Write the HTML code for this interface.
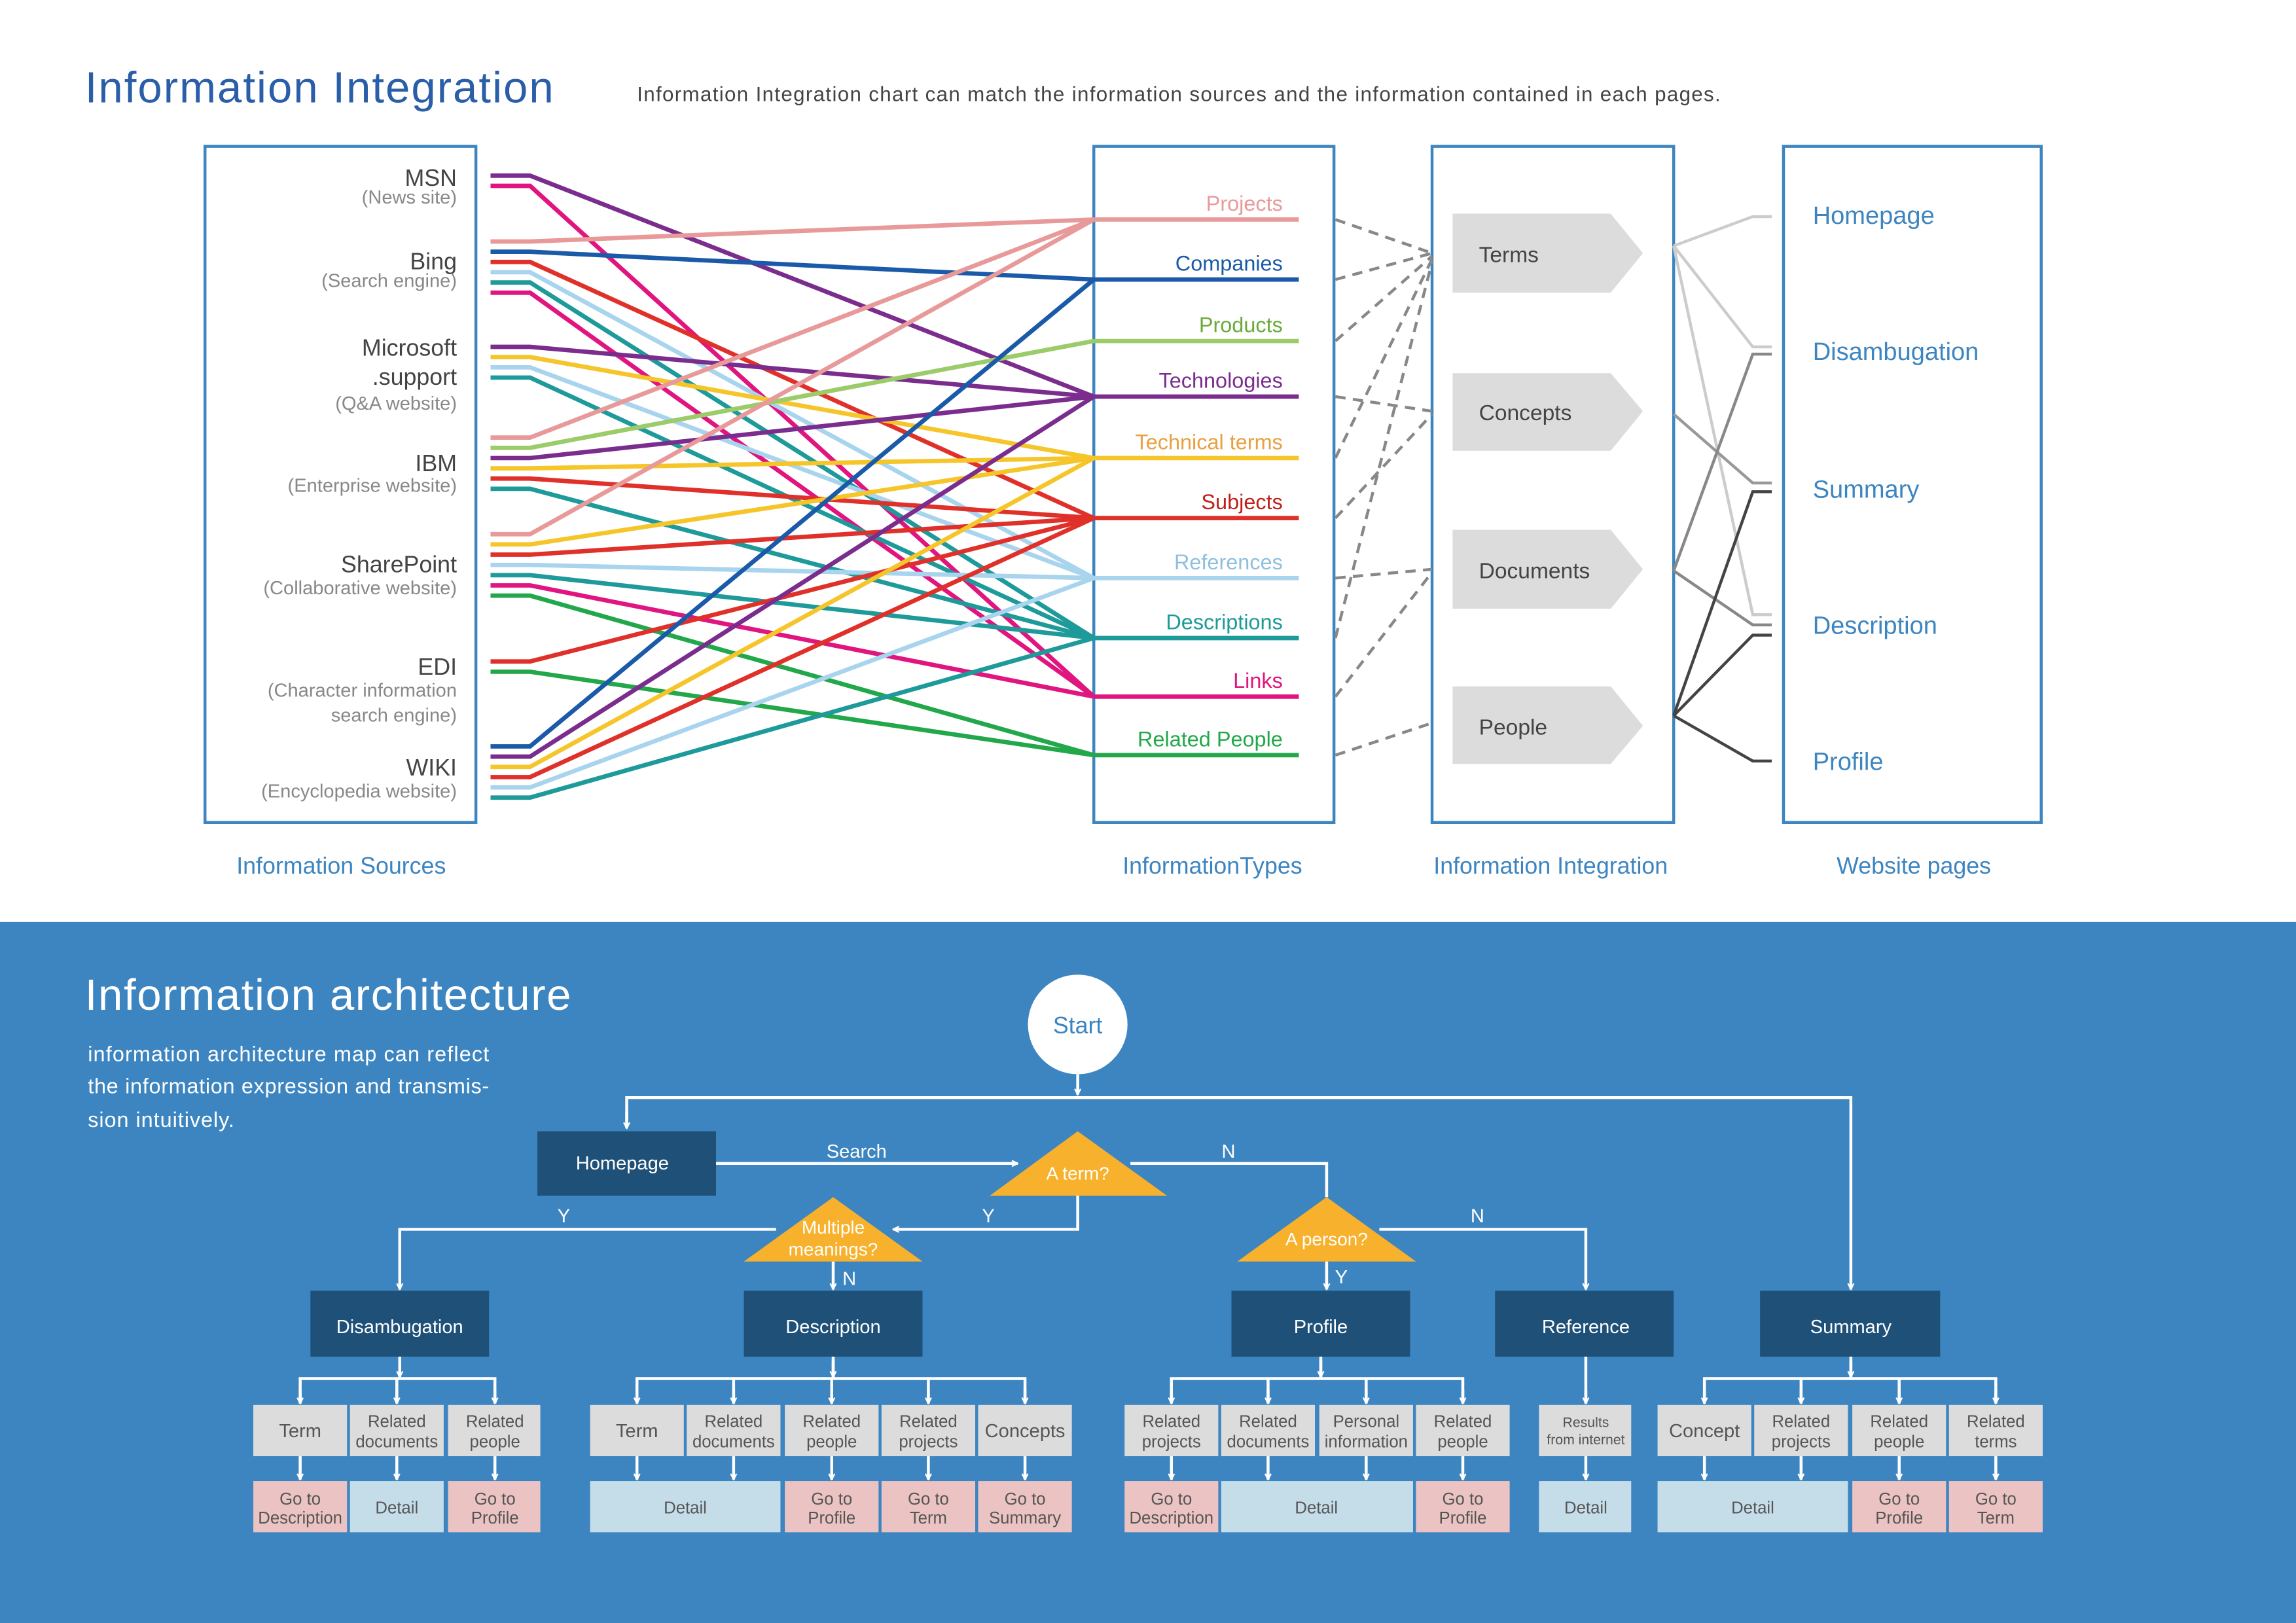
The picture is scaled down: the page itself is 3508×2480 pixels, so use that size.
<!DOCTYPE html>
<html><head><meta charset="utf-8"><style>
html,body{margin:0;padding:0;background:#fff}
svg{display:block}
text{font-family:"Liberation Sans",sans-serif}
</style></head><body>
<svg width="3508" height="2480" viewBox="0 0 1568 1109" preserveAspectRatio="none" xmlns="http://www.w3.org/2000/svg">
<defs>
<marker id="ar" viewBox="0 0 10 10" refX="9" refY="5" markerWidth="5" markerHeight="5" orient="auto" markerUnits="userSpaceOnUse">
<path d="M1,1 L9,5 L1,9" fill="none" stroke="#fff" stroke-width="2"/>
</marker>
</defs>
<rect width="1568" height="1109" fill="#fff"/>
<text x="58" y="70" font-size="30" fill="#2a5ea8" textLength="320" lengthAdjust="spacing">Information Integration</text>
<text x="435" y="69" font-size="14" fill="#444" textLength="740" lengthAdjust="spacing">Information Integration chart can match the information sources and the information contained in each pages.</text>

<g fill="none" stroke="#3d85c0" stroke-width="2">
<rect x="140" y="100" width="185" height="462"/>
<rect x="747" y="100" width="164" height="462"/>
<rect x="978" y="100" width="165" height="462"/>
<rect x="1218" y="100" width="176" height="462"/>
</g>

<g font-size="16" fill="#444" text-anchor="end">
<text x="312" y="127">MSN</text><text x="312" y="139" font-size="13" fill="#888">(News site)</text>
<text x="312" y="184">Bing</text><text x="312" y="196" font-size="13" fill="#888">(Search engine)</text>
<text x="312" y="243">Microsoft</text><text x="312" y="263">.support</text><text x="312" y="280" font-size="13" fill="#888">(Q&amp;A website)</text>
<text x="312" y="322">IBM</text><text x="312" y="336" font-size="13" fill="#888">(Enterprise website)</text>
<text x="312" y="391">SharePoint</text><text x="312" y="406" font-size="13" fill="#888">(Collaborative website)</text>
<text x="312" y="461">EDI</text><text x="312" y="476" font-size="13" fill="#888">(Character information</text><text x="312" y="493" font-size="13" fill="#888">search engine)</text>
<text x="312" y="530">WIKI</text><text x="312" y="545" font-size="13" fill="#888">(Encyclopedia website)</text>
</g>

<g fill="none" stroke-width="3">
<path d="M335,120H362L747,271" stroke="#7b2d8e"/>
<path d="M335,127H362L747,476" stroke="#e0157f"/>
<path d="M335,165H362L747,150" stroke="#e89a9a"/>
<path d="M335,172H362L747,191" stroke="#1a5aa8"/>
<path d="M335,179H362L747,354" stroke="#e0302a"/>
<path d="M335,186H362L747,395" stroke="#a8d4ee"/>
<path d="M335,193H362L747,436" stroke="#1e9a9a"/>
<path d="M335,200H362L747,476" stroke="#e0157f"/>
<path d="M335,237H362L747,271" stroke="#7b2d8e"/>
<path d="M335,244H362L747,313" stroke="#f5c52a"/>
<path d="M335,251H362L747,395" stroke="#a8d4ee"/>
<path d="M335,258H362L747,436" stroke="#1e9a9a"/>
<path d="M335,299H362L747,150" stroke="#e89a9a"/>
<path d="M335,306H362L747,233" stroke="#9ccc6a"/>
<path d="M335,313H362L747,271" stroke="#7b2d8e"/>
<path d="M335,320H362L747,313" stroke="#f5c52a"/>
<path d="M335,327H362L747,354" stroke="#e0302a"/>
<path d="M335,334H362L747,436" stroke="#1e9a9a"/>
<path d="M335,365H362L747,150" stroke="#e89a9a"/>
<path d="M335,372H362L747,313" stroke="#f5c52a"/>
<path d="M335,379H362L747,354" stroke="#e0302a"/>
<path d="M335,386H362L747,395" stroke="#a8d4ee"/>
<path d="M335,393H362L747,436" stroke="#1e9a9a"/>
<path d="M335,400H362L747,476" stroke="#e0157f"/>
<path d="M335,407H362L747,516" stroke="#22a84a"/>
<path d="M335,452H362L747,354" stroke="#e0302a"/>
<path d="M335,459H362L747,516" stroke="#22a84a"/>
<path d="M335,510H362L747,191" stroke="#1a5aa8"/>
<path d="M335,517H362L747,271" stroke="#7b2d8e"/>
<path d="M335,524H362L747,313" stroke="#f5c52a"/>
<path d="M335,531H362L747,354" stroke="#e0302a"/>
<path d="M335,538H362L747,395" stroke="#a8d4ee"/>
<path d="M335,545H362L747,436" stroke="#1e9a9a"/>
<path d="M747,150H887" stroke="#e89a9a"/>
<path d="M747,191H887" stroke="#1a5aa8"/>
<path d="M747,233H887" stroke="#9ccc6a"/>
<path d="M747,271H887" stroke="#7b2d8e"/>
<path d="M747,313H887" stroke="#f5c52a"/>
<path d="M747,354H887" stroke="#e0302a"/>
<path d="M747,395H887" stroke="#a8d4ee"/>
<path d="M747,436H887" stroke="#1e9a9a"/>
<path d="M747,476H887" stroke="#e0157f"/>
<path d="M747,516H887" stroke="#22a84a"/>
</g>
<g font-size="14.5" text-anchor="end">
<text x="876" y="144" fill="#e89a9a">Projects</text>
<text x="876" y="185" fill="#1a5aa8">Companies</text>
<text x="876" y="227" fill="#6aaa3a">Products</text>
<text x="876" y="265" fill="#7b2d8e">Technologies</text>
<text x="876" y="307" fill="#e8a040">Technical terms</text>
<text x="876" y="348" fill="#c0201a">Subjects</text>
<text x="876" y="389" fill="#8fbfdf">References</text>
<text x="876" y="430" fill="#1e9a9a">Descriptions</text>
<text x="876" y="470" fill="#e0157f">Links</text>
<text x="876" y="510" fill="#22a84a">Related People</text>
</g>

<g fill="none" stroke="#888" stroke-width="2" stroke-dasharray="7,5">
<path d="M912,150L978,173"/>
<path d="M912,191L978,173"/>
<path d="M912,233L978,175"/>
<path d="M912,271L978,281"/>
<path d="M912,313L978,177"/>
<path d="M912,354L978,283"/>
<path d="M912,395L978,389"/>
<path d="M912,436L978,179"/>
<path d="M912,476L978,391"/>
<path d="M912,516L978,494"/>
</g>

<g fill="#dcdcdc">
<polygon points="992,146 1100,146 1122,173 1100,200 992,200"/>
<polygon points="992,255 1100,255 1122,281 1100,308 992,308"/>
<polygon points="992,362 1100,362 1122,389 1100,416 992,416"/>
<polygon points="992,469 1100,469 1122,496 1100,522 992,522"/>
</g>
<g font-size="15" fill="#444">
<text x="1010" y="179">Terms</text>
<text x="1010" y="287">Concepts</text>
<text x="1010" y="395">Documents</text>
<text x="1010" y="502">People</text>
</g>

<g fill="none" stroke-width="2">
<path d="M1143,168L1197,148H1210" stroke="#ccc"/>
<path d="M1143,168L1197,237H1210" stroke="#ccc"/>
<path d="M1143,168L1197,420H1210" stroke="#ccc"/>
<path d="M1143,283L1197,330H1210" stroke="#999"/>
<path d="M1143,390L1197,242H1210" stroke="#888"/>
<path d="M1143,390L1197,427H1210" stroke="#888"/>
<path d="M1143,489L1197,336H1210" stroke="#444"/>
<path d="M1143,489L1197,434H1210" stroke="#444"/>
<path d="M1143,489L1197,520H1210" stroke="#444"/>
</g>
<g font-size="17" fill="#3d85c0">
<text x="1238" y="153">Homepage</text>
<text x="1238" y="246">Disambugation</text>
<text x="1238" y="340">Summary</text>
<text x="1238" y="433">Description</text>
<text x="1238" y="526">Profile</text>
</g>
<g font-size="16" fill="#3d85c0" text-anchor="middle">
<text x="233" y="597">Information Sources</text>
<text x="828" y="597">InformationTypes</text>
<text x="1059" y="597">Information Integration</text>
<text x="1307" y="597">Website pages</text>
</g>

<rect x="0" y="630" width="1568" height="479" fill="#3d85c0"/>
<text x="58" y="690" font-size="30" fill="#fff" textLength="332" lengthAdjust="spacing">Information architecture</text>
<g font-size="14.5" fill="#fff">
<text x="60" y="725" textLength="274" lengthAdjust="spacing">information architecture map can reflect</text>
<text x="60" y="747" textLength="274" lengthAdjust="spacing">the information expression and transmis-</text>
<text x="60" y="770" textLength="100" lengthAdjust="spacing">sion intuitively.</text>
</g>
<circle cx="736" cy="700" r="34" fill="#fff"/>
<text x="736" y="706" font-size="16" fill="#3d85c0" text-anchor="middle">Start</text>

<g fill="none" stroke="#fff" stroke-width="2">
<path d="M736,734V748" marker-end="url(#ar)"/>
<path d="M428,770V750H1264V881" marker-end="url(#ar)"/>
<path d="M489,795H695" marker-end="url(#ar)"/>
<path d="M772,795H906V818"/>
<path d="M736,817V840H610" marker-end="url(#ar)"/>
<path d="M530,840H273V881" marker-end="url(#ar)"/>
<path d="M569,862V881" marker-end="url(#ar)"/>
<path d="M942,840H1083V881" marker-end="url(#ar)"/>
<path d="M906,862V881" marker-end="url(#ar)"/>
</g>
<path d="M428,760V771" stroke="#fff" stroke-width="2" marker-end="url(#ar)"/>
<g font-size="13" fill="#fff" text-anchor="middle">
<text x="585" y="791">Search</text>
<text x="839" y="791">N</text>
<text x="675" y="835">Y</text>
<text x="385" y="835">Y</text>
<text x="580" y="878">N</text>
<text x="1009" y="835">N</text>
<text x="916" y="877">Y</text>
</g>

<rect x="367" y="773" width="122" height="44" fill="#1e5078"/>
<text x="425" y="799" font-size="13" fill="#fff" text-anchor="middle">Homepage</text>
<g fill="#f7b12c">
<polygon points="736,773 797,817 676,817"/>
<polygon points="569,818 630,862 508,862"/>
<polygon points="906,818 967,862 845,862"/>
</g>
<g font-size="12.5" fill="#fff" text-anchor="middle">
<text x="736" y="806">A term?</text>
<text x="569" y="843">Multiple</text>
<text x="569" y="858">meanings?</text>
<text x="906" y="851">A person?</text>
</g>

<g fill="#1e5078">
<rect x="212" y="882" width="122" height="45"/>
<rect x="508" y="882" width="122" height="45"/>
<rect x="841" y="882" width="122" height="45"/>
<rect x="1021" y="882" width="122" height="45"/>
<rect x="1202" y="882" width="123" height="45"/>
</g>
<g font-size="13" fill="#fff" text-anchor="middle">
<text x="273" y="911">Disambugation</text>
<text x="569" y="911">Description</text>
<text x="902" y="911">Profile</text>
<text x="1083" y="911">Reference</text>
<text x="1264" y="911">Summary</text>
</g>

<g fill="none" stroke="#fff" stroke-width="2">
<path d="M273,927V941"/><path d="M205,959V942H338V959"/><path d="M271,942V959"/>
<path d="M569,927V941"/><path d="M435,959V942H700V959"/><path d="M501,942V959"/><path d="M568,942V959"/><path d="M634,942V959"/>
<path d="M902,927V941"/><path d="M800,959V942H999V959"/><path d="M866,942V959"/><path d="M933,942V959"/>
<path d="M1083,927V959"/>
<path d="M1264,927V941"/><path d="M1164,959V942H1363V959"/><path d="M1230,942V959"/><path d="M1297,942V959"/>
</g>
<g fill="none" stroke="#fff" stroke-width="2" marker-end="url(#ar)">
<path d="M273,930V941"/>
<path d="M205,950V959"/><path d="M271,950V959"/><path d="M338,950V959"/>
<path d="M569,930V941"/>
<path d="M435,950V959"/><path d="M501,950V959"/><path d="M568,950V959"/><path d="M634,950V959"/><path d="M700,950V959"/>
<path d="M902,930V941"/>
<path d="M800,950V959"/><path d="M866,950V959"/><path d="M933,950V959"/><path d="M999,950V959"/>
<path d="M1083,950V959"/>
<path d="M1264,930V941"/>
<path d="M1164,950V959"/><path d="M1230,950V959"/><path d="M1297,950V959"/><path d="M1363,950V959"/>
<path d="M205,995V1011"/><path d="M271,995V1011"/><path d="M338,995V1011"/>
<path d="M435,995V1011"/><path d="M501,995V1011"/><path d="M568,995V1011"/><path d="M634,995V1011"/><path d="M700,995V1011"/>
<path d="M800,995V1011"/><path d="M866,995V1011"/><path d="M933,995V1011"/><path d="M999,995V1011"/>
<path d="M1083,995V1011"/>
<path d="M1164,995V1011"/><path d="M1230,995V1011"/><path d="M1297,995V1011"/><path d="M1363,995V1011"/>
</g>

<g fill="#dcdcdc">
<rect x="173" y="960" width="64" height="35"/><rect x="239" y="960" width="64" height="35"/><rect x="306" y="960" width="63" height="35"/>
<rect x="403" y="960" width="64" height="35"/><rect x="469" y="960" width="64" height="35"/><rect x="536" y="960" width="64" height="35"/><rect x="602" y="960" width="64" height="35"/><rect x="668" y="960" width="64" height="35"/>
<rect x="768" y="960" width="64" height="35"/><rect x="834" y="960" width="64" height="35"/><rect x="901" y="960" width="64" height="35"/><rect x="967" y="960" width="64" height="35"/>
<rect x="1051" y="960" width="63" height="35"/>
<rect x="1132" y="960" width="64" height="35"/><rect x="1198" y="960" width="64" height="35"/><rect x="1265" y="960" width="64" height="35"/><rect x="1331" y="960" width="64" height="35"/>
</g>
<g fill="#ecc3c3">
<rect x="173" y="1012" width="64" height="35"/><rect x="306" y="1012" width="63" height="35"/>
<rect x="536" y="1012" width="64" height="35"/><rect x="602" y="1012" width="64" height="35"/><rect x="668" y="1012" width="64" height="35"/>
<rect x="768" y="1012" width="64" height="35"/><rect x="967" y="1012" width="64" height="35"/>
<rect x="1265" y="1012" width="64" height="35"/><rect x="1331" y="1012" width="64" height="35"/>
</g>
<g fill="#c5dde9">
<rect x="239" y="1012" width="64" height="35"/>
<rect x="403" y="1012" width="130" height="35"/>
<rect x="834" y="1012" width="131" height="35"/>
<rect x="1051" y="1012" width="63" height="35"/>
<rect x="1132" y="1012" width="130" height="35"/>
</g>
<g font-size="11.5" fill="#555" text-anchor="middle">
<text x="205" y="982" font-size="13">Term</text>
<text x="271" y="975">Related</text><text x="271" y="989">documents</text>
<text x="338" y="975">Related</text><text x="338" y="989">people</text>
<text x="435" y="982" font-size="13">Term</text>
<text x="501" y="975">Related</text><text x="501" y="989">documents</text>
<text x="568" y="975">Related</text><text x="568" y="989">people</text>
<text x="634" y="975">Related</text><text x="634" y="989">projects</text>
<text x="700" y="982" font-size="13">Concepts</text>
<text x="800" y="975">Related</text><text x="800" y="989">projects</text>
<text x="866" y="975">Related</text><text x="866" y="989">documents</text>
<text x="933" y="975">Personal</text><text x="933" y="989">information</text>
<text x="999" y="975">Related</text><text x="999" y="989">people</text>
<text x="1083" y="975" font-size="9.5">Results</text><text x="1083" y="987" font-size="9.5">from internet</text>
<text x="1164" y="982" font-size="13">Concept</text>
<text x="1230" y="975">Related</text><text x="1230" y="989">projects</text>
<text x="1297" y="975">Related</text><text x="1297" y="989">people</text>
<text x="1363" y="975">Related</text><text x="1363" y="989">terms</text>

<text x="205" y="1028">Go to</text><text x="205" y="1041">Description</text>
<text x="271" y="1034">Detail</text>
<text x="338" y="1028">Go to</text><text x="338" y="1041">Profile</text>
<text x="468" y="1034">Detail</text>
<text x="568" y="1028">Go to</text><text x="568" y="1041">Profile</text>
<text x="634" y="1028">Go to</text><text x="634" y="1041">Term</text>
<text x="700" y="1028">Go to</text><text x="700" y="1041">Summary</text>
<text x="800" y="1028">Go to</text><text x="800" y="1041">Description</text>
<text x="899" y="1034">Detail</text>
<text x="999" y="1028">Go to</text><text x="999" y="1041">Profile</text>
<text x="1083" y="1034">Detail</text>
<text x="1197" y="1034">Detail</text>
<text x="1297" y="1028">Go to</text><text x="1297" y="1041">Profile</text>
<text x="1363" y="1028">Go to</text><text x="1363" y="1041">Term</text>
</g>
</svg>
</body></html>
